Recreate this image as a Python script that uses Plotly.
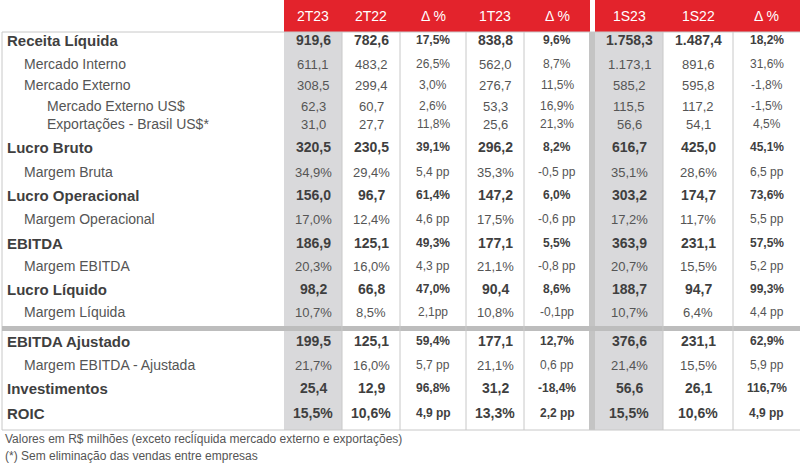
import plotly.graph_objects as go

headers = ["2T23", "2T22", "Δ %", "1T23", "Δ %", "1S23", "1S22", "Δ %"]
labels = ["Receita Líquida", "Mercado Interno", "Mercado Externo", "Mercado Externo US$",
          "Exportações - Brasil US$*", "Lucro Bruto", "Margem Bruta", "Lucro Operacional",
          "Margem Operacional", "EBITDA", "Margem EBITDA", "Lucro Líquido", "Margem Líquida",
          "EBITDA Ajustado", "Margem EBITDA - Ajustada", "Investimentos", "ROIC"]
levels = [0, 1, 1, 2, 2, 0, 1, 0, 1, 0, 1, 0, 1, 0, 1, 0, 0]
c_2t23 = ["919,6", "611,1", "308,5", "62,3", "31,0", "320,5", "34,9%", "156,0", "17,0%", "186,9", "20,3%", "98,2", "10,7%", "199,5", "21,7%", "25,4", "15,5%"]
c_2t22 = ["782,6", "483,2", "299,4", "60,7", "27,7", "230,5", "29,4%", "96,7", "12,4%", "125,1", "16,0%", "66,8", "8,5%", "125,1", "16,0%", "12,9", "10,6%"]
c_d1 = ["17,5%", "26,5%", "3,0%", "2,6%", "11,8%", "39,1%", "5,4 pp", "61,4%", "4,6 pp", "49,3%", "4,3 pp", "47,0%", "2,1pp", "59,4%", "5,7 pp", "96,8%", "4,9 pp"]
c_1t23 = ["838,8", "562,0", "276,7", "53,3", "25,6", "296,2", "35,3%", "147,2", "17,5%", "177,1", "21,1%", "90,4", "10,8%", "177,1", "21,1%", "31,2", "13,3%"]
c_d2 = ["9,6%", "8,7%", "11,5%", "16,9%", "21,3%", "8,2%", "-0,5 pp", "6,0%", "-0,6 pp", "5,5%", "-0,8 pp", "8,6%", "-0,1pp", "12,7%", "0,6 pp", "-18,4%", "2,2 pp"]
c_1s23 = ["1.758,3", "1.173,1", "585,2", "115,5", "56,6", "616,7", "35,1%", "303,2", "17,2%", "363,9", "20,7%", "188,7", "10,7%", "376,6", "21,4%", "56,6", "15,5%"]
c_1s22 = ["1.487,4", "891,6", "595,8", "117,2", "54,1", "425,0", "28,6%", "174,7", "11,7%", "231,1", "15,5%", "94,7", "6,4%", "231,1", "15,5%", "26,1", "10,6%"]
c_d3 = ["18,2%", "31,6%", "-1,8%", "-1,5%", "4,5%", "45,1%", "6,5 pp", "73,6%", "5,5 pp", "57,5%", "5,2 pp", "99,3%", "4,4 pp", "62,9%", "5,9 pp", "116,7%", "4,9 pp"]
footnotes = ["Valores em R$ milhões (exceto recĺíquida mercado externo e exportações)",
             "(*) Sem eliminação das vendas entre empresas"]

columns = [c_2t23, c_2t22, c_d1, c_1t23, c_d2, c_1s23, c_1s22, c_d3]

# layout geometry (pixels)
col_edges = [(284, 342), (342, 400), (400, 466), (466, 524), (524, 590), (595, 663), (663, 733), (733, 800)]
row_y = [40, 64, 85, 106, 124, 147, 172, 195, 219, 243, 266, 289, 312, 341, 365, 388, 413]
label_x = [5, 22, 45]
red = "#E3232C"
dark = "#3f3f3f"
mid = "#555555"
lgray = "#c8c8c8"

shapes = []
ann = []
shapes.append(dict(type="rect", x0=284, x1=590, y0=0, y1=32, fillcolor=red, line_width=0, layer="below"))
shapes.append(dict(type="rect", x0=595, x1=800, y0=0, y1=32, fillcolor=red, line_width=0, layer="below"))
for i in (0, 5):
    a, b = col_edges[i]
    shapes.append(dict(type="rect", x0=a, x1=b, y0=32, y1=430, fillcolor="#d9d9db", line_width=0, layer="below"))
shapes.append(dict(type="rect", x0=589, x1=595, y0=32, y1=430, fillcolor="#c4c4c4", line_width=0, layer="below"))
shapes.append(dict(type="line", x0=2, x1=800, y0=32, y1=32, line=dict(color=lgray, width=1)))
shapes.append(dict(type="line", x0=2, x1=800, y0=430, y1=430, line=dict(color=lgray, width=1)))
shapes.append(dict(type="line", x0=2, x1=2, y0=32, y1=430, line=dict(color=lgray, width=1)))
shapes.append(dict(type="rect", x0=2, x1=800, y0=326, y1=331, fillcolor="#bdbdbd", line_width=0))
for i, (a, b) in enumerate(col_edges):
    if i not in (0, 5):
        shapes.append(dict(type="line", x0=a, x1=a, y0=32, y1=430, line=dict(color=lgray, width=1)))

for i, h in enumerate(headers):
    a, b = col_edges[i]
    ann.append(dict(x=(a + b) / 2, y=16, text=h, showarrow=False,
                    font=dict(family="Liberation Sans", size=14, color="white")))

for r, lab in enumerate(labels):
    bold = levels[r] == 0
    ann.append(dict(x=label_x[levels[r]], y=row_y[r], text=f"<b>{lab}</b>" if bold else lab,
                    showarrow=False, xanchor="left",
                    font=dict(family="Liberation Sans", size=15 if bold else 14, color=dark if bold else mid)))
    for c, col in enumerate(columns):
        a, b = col_edges[c]
        v = col[r]
        isdelta = c in (2, 4, 7)
        size = (12 if isdelta else 14) if bold else (12 if isdelta else 13)
        ann.append(dict(x=(a + b) / 2, y=row_y[r], text=f"<b>{v}</b>" if bold else v, showarrow=False,
                        font=dict(family="Liberation Sans", size=size, color=dark if bold else mid)))

for k, t in enumerate(footnotes):
    ann.append(dict(x=3, y=438 + k * 18, text=t, showarrow=False, xanchor="left",
                    font=dict(family="Liberation Sans Narrow, Liberation Sans", size=12, color="#555")))

fig = go.Figure()
fig.update_layout(width=800, height=470, margin=dict(l=0, r=0, t=0, b=0),
                  plot_bgcolor="white", paper_bgcolor="white",
                  xaxis=dict(range=[0, 800], visible=False, fixedrange=True),
                  yaxis=dict(range=[470, 0], visible=False, fixedrange=True),
                  shapes=shapes, annotations=ann, showlegend=False)
fig.write_html("out.html", config={"displayModeBar": False},
               post_script="document.body.style.margin='0';document.body.style.overflow='hidden';")
